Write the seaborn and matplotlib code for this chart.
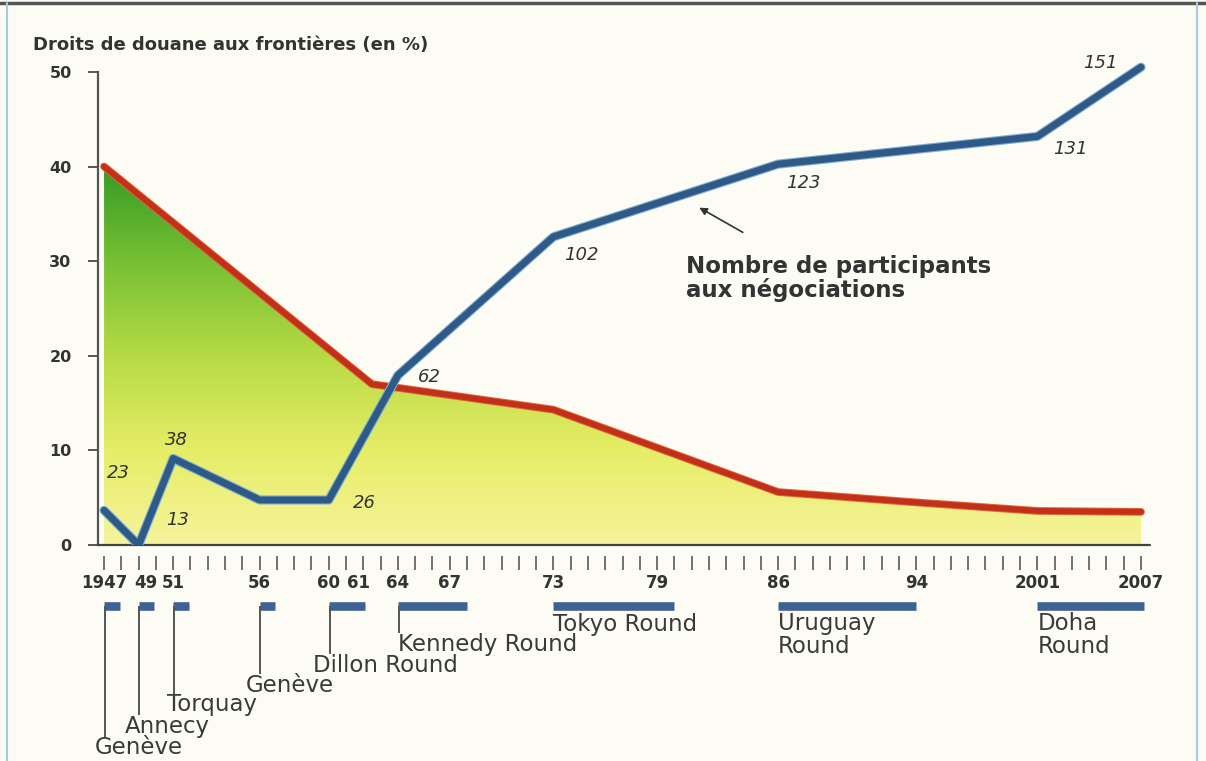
import matplotlib
matplotlib.use("Agg")
import matplotlib.pyplot as plt
import matplotlib.patheffects as pe
from matplotlib.colors import LinearSegmentedColormap
from matplotlib.lines import Line2D
from matplotlib.transforms import ScaledTranslation
import numpy as np
import seaborn as sns


# droits de douane moyens aux frontières (%)
tariff_years = [1947, 1962.5, 1973, 1986, 1994, 2001, 2007]
tariff_pct = [40, 17, 14.3, 5.6, 4.5, 3.6, 3.5]

# nombre de participants aux négociations
part_years = [1947, 1949, 1951, 1956, 1960, 1964, 1973, 1986, 2001, 2007]
part_count = [23, 13, 38, 26, 26, 62, 102, 123, 131, 151]
part_labels = ["23", "13", "38", "", "26", "62", "102", "123", "131", "151"]

tick_years = [1947, 1949, 1951, 1956, 1960, 1961, 1964, 1967, 1973, 1979, 1986, 1994, 2001, 2007]
tick_labels = ["1947", "49", "51", "56", "60", "61", "64", "67", "73", "79", "86", "94", "2001", "2007"]

round_names = ["Genève", "Annecy", "Torquay", "Genève", "Dillon Round", "Kennedy Round",
               "Tokyo Round", "Uruguay\nRound", "Doha\nRound"]
round_start = [1947, 1949, 1951, 1956, 1960, 1964, 1973, 1986, 2001]
round_end = [1947.9, 1949.9, 1951.9, 1956.9, 1962.1, 1968, 1980, 1994, 2007.2]

# mise en page (pixels) -------------------------------------------------
label_offsets = [(14, 37), (39, 25), (3, 18), None, (36, -3), (32, -2), (28, -18), (25, -19), (33, -13), (-41, 4)]
round_text_y = [158, 136, 115, 95, 75, 54, 35, 45, 45]
round_line_end = [147, 125, 104, 84, 64, 43, None, None, None]
round_text_dx = [-0.55, -0.8, -0.35, -0.8, -0.9, 0, 0, 0, 0]
tick_label_shift = {"49": 7, "61": 12}
PART_TOP_PCT = 50.5   # position du dernier point (151) sur l'échelle en %

BG = "#fdfcf4"
INK = "#333333"
BLUE = "#2f5a88"
RED = "#c2301b"

sns.set_theme(style="white")
plt.rcParams["font.family"] = ["DejaVu Sans"]

fig = plt.figure(figsize=(12.06, 7.61), dpi=100, facecolor=BG)
W_PX, H_PX = 1206, 761
left, right = 98 / W_PX, 1150 / W_PX
ax = fig.add_axes([left, 1 - 545 / H_PX, right - left, (545 - 53) / H_PX])
ax.set_facecolor("none")

xlim = (1946.65, 2007.52)
ylim = (0, 52)

# remplissage dégradé sous la courbe des droits de douane
cmap = LinearSegmentedColormap.from_list(
    "vert_jaune",
    [(0, "#f6f49c"), (0.25, "#e6ed66"), (0.5, "#b6da44"), (0.75, "#76c034"), (1, "#369a24")],
)
poly = ax.fill_between(tariff_years, tariff_pct, 0, facecolor="none", edgecolor="none")
grad = np.linspace(0, 1, 256).reshape(-1, 1)
im = ax.imshow(grad, extent=[min(tariff_years), max(tariff_years), 0, max(tariff_pct)],
               origin="lower", aspect="auto", cmap=cmap, zorder=1)
im.set_clip_path(poly.get_paths()[0], transform=ax.transData)

sns.lineplot(x=tariff_years, y=tariff_pct, ax=ax, sort=False, color=RED, linewidth=4.2,
             path_effects=[pe.Stroke(linewidth=5.6, foreground="#de6a38"), pe.Normal()], zorder=3)

ax.set_xlim(*xlim)
ax.set_ylim(*ylim)

# axe des participants
ax2 = ax.twinx()
sns.lineplot(x=part_years, y=part_count, ax=ax2, sort=False, color=BLUE, linewidth=5,
             path_effects=[pe.Stroke(linewidth=6.6, foreground="#7eaed0"), pe.Normal()])
lo, hi = min(part_count), max(part_count)
ax2.set_ylim(lo, lo + (hi - lo) * ylim[1] / PART_TOP_PCT)
ax2.set_xlim(*xlim)
ax2.axis("off")
for yr, n, lab, off in zip(part_years, part_count, part_labels, label_offsets):
    if not lab:
        continue
    ax2.annotate(lab, (yr, n), xytext=off, textcoords="offset pixels", ha="center", va="center",
                 fontsize=13, style="italic", color=INK)

# axes
for s in ["top", "right"]:
    ax.spines[s].set_visible(False)
ax.spines["left"].set_bounds(0, 50)
ax.spines["left"].set_color("#555555")
ax.spines["left"].set_linewidth(1.6)
ax.spines["bottom"].set_position(("outward", 8))
ax.spines["bottom"].set_visible(False)
ax.axhline(0, color="#444444", lw=1.6, clip_on=False, zorder=4)

ax.set_yticks([0, 10, 20, 30, 40, 50])
ax.tick_params(axis="y", direction="out", length=7, width=1.4, color="#555555",
               labelsize=11.5, labelcolor=INK, pad=12, left=True)
for t in ax.get_yticklabels():
    t.set_fontweight("bold")

ax.set_xticks(tick_years)
ax.set_xticklabels(tick_labels, fontweight="bold")
ax.set_xticks(np.arange(1947, 2008), minor=True)
ax.tick_params(axis="x", which="both", direction="out", length=10, width=1.3, color="#666666",
               bottom=True, labelsize=12, labelcolor=INK, pad=3)
ax.set_xlabel("")
ax.set_ylabel("")

fig.text(33 / W_PX, 1 - 45 / H_PX, "Droits de douane aux frontières (en %)", fontsize=13,
         fontweight="bold", color=INK, va="center", ha="left")

ax.text(1980.7, 28.2, "Nombre de participants\naux négociations", fontsize=16.5, fontweight="bold",
        color=INK, va="center", ha="left", linespacing=1.0)
ax.annotate("", xy=(1981.3, 35.8), xytext=(1984.1, 32.9),
            arrowprops=dict(arrowstyle="-|>", color=INK, lw=1.2, mutation_scale=11))

# frise des cycles de négociation
ax_t = fig.add_axes([left, 0, right - left, 171 / H_PX])
ax_t.set_facecolor("none")
ax_t.set_xlim(*xlim)
ax_t.set_ylim(171, 0)
ax_t.axis("off")
ax_t.hlines([16] * len(round_start), round_start, round_end, color="#3f6294", lw=6.2)
for name, x0, ty, ly, dx in zip(round_names, round_start, round_text_y, round_line_end, round_text_dx):
    if ly is not None:
        ax_t.vlines(x0 + 0.05, 16, ly, color="#555555", lw=1.4)
    ax_t.text(x0 + dx, ty, name, fontsize=16.5, color="#3a3a3a", ha="left", va="center",
              linespacing=0.95)

# cadre
fig.add_artist(Line2D([0, 1], [1 - 3 / H_PX] * 2, color="#555555", lw=2.5))
fig.add_artist(Line2D([7 / W_PX] * 2, [0, 1 - 3 / H_PX], color="#9fd0d4", lw=1.5))
fig.add_artist(Line2D([1197 / W_PX] * 2, [0, 1 - 3 / H_PX], color="#aac8e0", lw=1.5))

# léger décalage de certaines étiquettes d'années, comme sur l'original
for lab in ax.get_xticklabels():
    dx = tick_label_shift.get(lab.get_text())
    if dx:
        lab.set_transform(lab.get_transform() + ScaledTranslation(dx / 100, 0, fig.dpi_scale_trans))

fig.savefig("out.png", dpi=100, facecolor=fig.get_facecolor())
plt.close(fig)
